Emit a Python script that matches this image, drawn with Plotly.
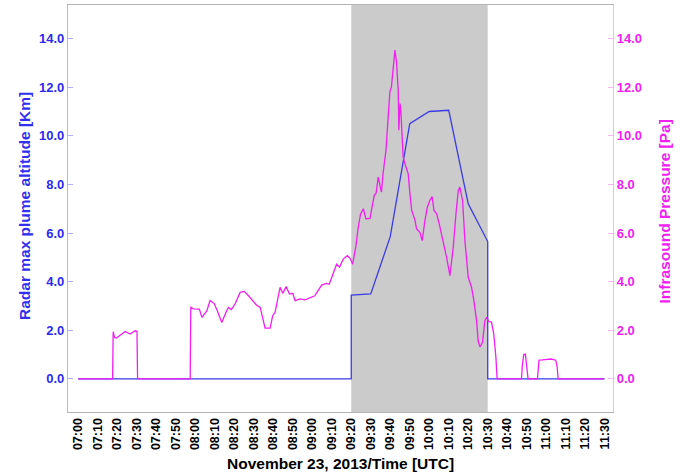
import pandas as pd
import plotly.graph_objects as go

# Time origin for all series (minutes are counted from 07:00 UTC)
BASE = pd.Timestamp("2013-11-23 07:00:00")

# Radar maximum plume altitude [km], sampled every 10 minutes
radar_minutes = [0, 140, 140, 150, 160, 170, 180, 190, 200, 210, 210, 270]
radar_km = [0.0, 0.0, 3.45, 3.5, 5.85, 10.5, 11.0, 11.05, 7.2, 5.65, 0.0, 0.0]

# Infrasound pressure [Pa]
infra_minutes = [
    0, 17.6, 17.9, 18.6, 19.5, 21, 24.1, 26.5, 29.2, 30.1, 30.4,
    57.4, 57.7, 59, 62.1, 63.4, 65.9, 67.6, 69.7, 71.3, 73.6, 75.7, 77, 78.5,
    80.4, 83, 85.1, 87.3, 91.5, 93.3, 94.1, 95.8, 98.4, 99.7, 100.9, 103.5,
    104.9, 106.6, 108.3, 110, 111.2, 113.7, 116.3, 118.9, 121.3, 124.8, 127.4,
    128.7, 130.8, 132.5, 134, 135.9, 138, 139.5, 140.7, 142.4, 143.6, 144.8,
    146.2, 147.5, 149.6, 150.8, 151.8, 152.8, 153.8, 155.5, 156.3, 157.8,
    159.0, 159.8, 160.6, 161.5, 162.4, 163.2, 164.1, 164.4, 165.0, 165.4,
    165.8, 166.6, 167.8, 169.2, 170.1, 171.0, 172.7, 173.5, 175.2, 176.4,
    177.8, 179.0, 180.3, 181.5, 182.4, 183.8, 185.5, 187.1, 188.9, 190.6,
    192.3, 193.7, 194.9, 195.7, 197.1, 198.3, 200.0, 201.7, 202.9, 204.3,
    205.1, 206.0, 207.3, 208.5, 209.4, 210.6, 211.9, 213.1, 214.2, 214.8,
    227.3, 227.8, 228.5, 229.3, 230.0, 230.7,
    235.5, 236.0, 236.3, 238, 240.3, 242.5, 244.9, 245.6, 246.1, 269.3,
]
infra_pa = [
    0, 0, 1.94, 1.70, 1.68, 1.78, 1.95, 1.85, 1.98, 1.96, 0,
    0, 2.94, 2.88, 2.87, 2.53, 2.80, 3.22, 3.10, 2.80, 2.32, 2.73, 2.94, 2.85,
    3.08, 3.56, 3.60, 3.42, 3.03, 2.94, 2.67, 2.09, 2.09, 2.60, 2.73, 3.77,
    3.52, 3.80, 3.49, 3.52, 3.22, 3.29, 3.25, 3.35, 3.42, 3.86, 3.93,
    3.90, 4.38, 4.72, 4.60, 4.93, 5.07, 4.95, 4.72, 5.48, 6.24, 6.79,
    7.00, 6.59, 6.60, 7.13, 7.55, 7.65, 8.30, 7.68, 8.44, 9.40,
    10.78, 11.81, 12.01, 12.84, 13.53, 13.04, 11.88, 10.23, 11.33, 11.10,
    10.23, 9.13, 8.78, 8.44, 7.61, 6.93, 6.52, 6.17, 6.03, 5.69,
    6.52, 7.06, 7.34, 7.50, 6.93, 6.80, 6.24, 5.69, 5.00, 4.25,
    5.41, 6.79, 7.75, 7.89, 7.34, 5.69, 4.18, 3.77, 3.22, 2.39,
    1.57, 1.32, 1.50, 2.39, 2.53, 2.36, 2.35, 1.84, 0.88, 0,
    0, 0.6, 1.0, 1.02, 0.6, 0,
    0, 0.6, 0.77, 0.78, 0.80, 0.82, 0.77, 0.5, 0, 0,
]

# Eruption window highlighted in grey
window_start = "09:20"
window_end = "10:30"

y_ticks = [0, 2, 4, 6, 8, 10, 12, 14]
y_range = [-1.36, 15.38]


def at(minutes):
    return [BASE + pd.Timedelta(minutes=m) for m in minutes]


def clock(hhmm):
    return pd.Timestamp(f"2013-11-23 {hhmm}:00")


FONT = "Liberation Sans, Arial, sans-serif"
BLUE = "#3a3ae6"
MAGENTA = "#f21ef2"

fig = go.Figure()
fig.add_trace(go.Scatter(
    x=at(radar_minutes), y=radar_km, mode="lines",
    line=dict(color=BLUE, width=1.3), yaxis="y", showlegend=False,
))
fig.add_trace(go.Scatter(
    x=at(infra_minutes), y=infra_pa, mode="lines",
    line=dict(color=MAGENTA, width=1.3), yaxis="y2", showlegend=False,
))

fig.add_vrect(x0=clock(window_start), x1=clock(window_end),
              fillcolor="#cbcbcb", opacity=1, line_width=0, layer="below")

tick_vals = pd.date_range(clock("07:00"), clock("11:30"), freq="10min")

fig.update_layout(
    width=686, height=474,
    margin=dict(l=67.7, r=72.7, t=5, b=62.3),
    paper_bgcolor="white", plot_bgcolor="white",
    font=dict(family=FONT),
    xaxis=dict(
        range=[BASE - pd.Timedelta(minutes=5.28), clock("11:30") + pd.Timedelta(minutes=4.25)],
        tickvals=list(tick_vals), ticktext=[t.strftime("%H:%M") for t in tick_vals],
        tickangle=-90, tickfont=dict(size=12.5, color="black", weight="bold", family=FONT),
        showgrid=False, zeroline=False, ticks="",
        showline=True, linecolor="#b4b4b4", linewidth=1.2, mirror=True,
    ),
    yaxis=dict(
        range=y_range, tickvals=y_ticks, ticktext=[f"{v:.1f}" for v in y_ticks],
        tickfont=dict(size=13, color="#2b2bf0", weight="bold", family=FONT),
        ticks="inside", ticklen=5, tickcolor="#b0b0ff",
        showline=True, linecolor="#b0b0ff", linewidth=1.2,
        showgrid=False, zeroline=False,
    ),
    yaxis2=dict(
        range=y_range, tickvals=y_ticks, ticktext=[f"{v:.1f}" for v in y_ticks],
        tickfont=dict(size=13, color="#f020f0", weight="bold", family=FONT),
        overlaying="y", side="right", anchor="x",
        ticks="inside", ticklen=5, tickcolor="#f5b5f5",
        showline=True, linecolor="#f5b5f5", linewidth=1.2,
        showgrid=False, zeroline=False,
    ),
    annotations=[
        dict(text="Radar max plume altitude [Km]", textangle=-90,
             xref="paper", yref="paper", x=-0.0801, y=0.507,
             xanchor="center", yanchor="middle", showarrow=False,
             font=dict(size=15.5, color="#3030ee", weight="bold", family=FONT)),
        dict(text="Infrasound Pressure [Pa]", textangle=-90,
             xref="paper", yref="paper", x=1.0949, y=0.492,
             xanchor="center", yanchor="middle", showarrow=False,
             font=dict(size=15.5, color="#f020f0", weight="bold", family=FONT)),
        dict(text="November 23, 2013/Time [UTC]",
             xref="paper", yref="paper", x=0.5, y=-0.126,
             xanchor="center", yanchor="middle", showarrow=False,
             font=dict(size=15.5, color="black", weight="bold", family=FONT)),
    ],
)

fig.write_html("out.html")
